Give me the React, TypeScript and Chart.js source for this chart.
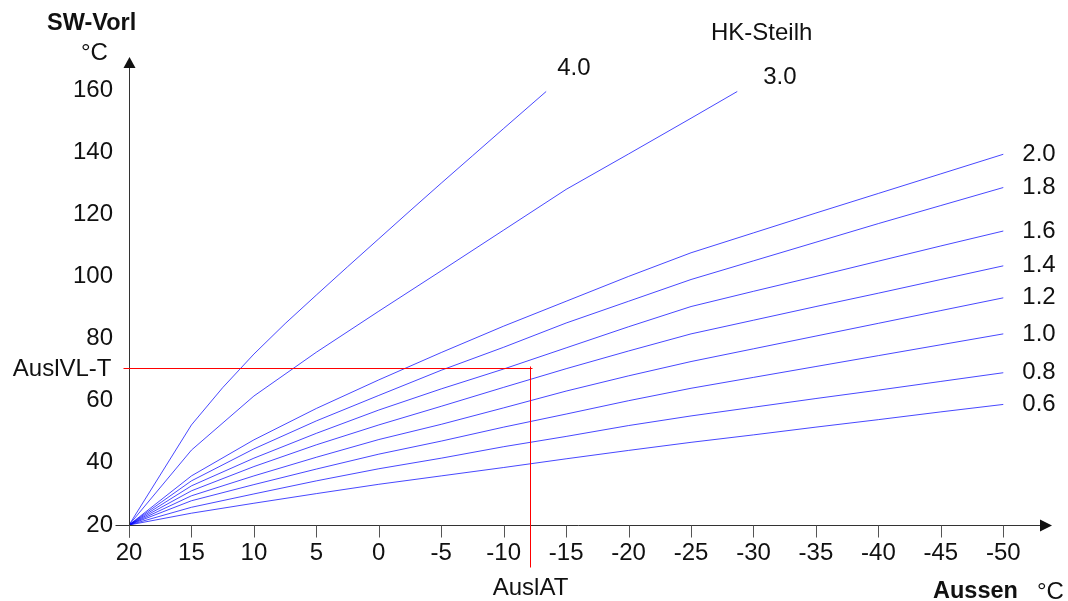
import React, { useEffect, useRef } from "react";
import { Chart, registerables } from "chart.js";

Chart.register(...registerables);

// ---- data ----
const outsideTemps = [20, 15, 10, 5, 0, -5, -10, -15, -20, -25, -30, -35, -40, -45, -50];
const slope06 = [20, 23.8, 27.0, 30.1, 33.1, 35.8, 38.5, 41.3, 44.0, 46.6, 49.0, 51.5, 53.9, 56.4, 58.8];
const slope08 = [20, 25.7, 30.0, 34.2, 38.1, 41.5, 45.2, 48.5, 52.0, 55.1, 57.9, 60.7, 63.4, 66.2, 69.0];
const slope10 = [20, 27.8, 33.0, 38.0, 42.8, 47.0, 51.5, 55.7, 60.0, 64.0, 67.5, 71.0, 74.5, 78.0, 81.5];
const slope12 = [20, 29.4, 35.8, 41.8, 47.5, 52.4, 57.7, 63.1, 68.0, 72.6, 76.7, 80.8, 84.9, 89.0, 93.1];
const slope14 = [20, 31.0, 38.8, 45.8, 52.2, 58.2, 64.3, 70.3, 76.0, 81.5, 85.9, 90.3, 94.6, 99.0, 103.4];
const slope16 = [20, 32.6, 41.5, 49.5, 57.0, 63.8, 70.2, 77.0, 83.8, 90.3, 95.2, 100.0, 104.9, 109.8, 114.6];
const slope18 = [20, 34.2, 44.5, 53.5, 61.7, 69.8, 77.2, 85.0, 92.0, 99.0, 105.0, 111.0, 117.0, 122.8, 128.6];
const slope20 = [20, 35.8, 47.4, 57.5, 66.7, 75.5, 84.0, 92.0, 100.0, 107.6, 114.0, 120.4, 126.7, 133.0, 139.3];
const temps30 = [20, 15, 10, 5, 0, -5, -10, -15, -20, -25, -28.7];
const slope30 = [20, 44.1, 61.5, 75.6, 88.8, 101.8, 114.9, 128.0, 139.4, 150.9, 159.5];
const temps40 = [20, 15, 12.5, 10, 7.5, 5, 2.5, 0, -2.5, -5, -7.5, -10, -13.4];
const slope40 = [20, 52.2, 64.2, 75.0, 84.8, 94.0, 103.1, 112.1, 121.1, 130.0, 138.8, 147.6, 159.5];

const curveLabels = ["0.6", "0.8", "1.0", "1.2", "1.4", "1.6", "1.8", "2.0", "3.0", "4.0"];
const xTickValues = [20, 15, 10, 5, 0, -5, -10, -15, -20, -25, -30, -35, -40, -45, -50];
const yTickValues = [20, 40, 60, 80, 100, 120, 140, 160];
const designOutside = -12.1; // AuslAT
const designFlow = 70.4; // AuslVL-T

const X_MIN = -53.9;
const Y_MAX = 170.6;

// label offsets (px) from the last point of each curve
const labelOffsets: Record<string, [number, number]> = {
  "4.0": [11, -23],
  "3.0": [26, -14],
};
const defaultOffset: [number, number] = [19, 0];

const FONT = '"Liberation Sans", Arial, sans-serif';
const TEXT_COLOR = "#111";
const LINE_COLOR = "rgba(0,0,255,0.72)";

function pts(xs: number[], ys: number[]) {
  return xs.map((x, i) => ({ x, y: ys[i] }));
}

const annotationPlugin = {
  id: "heatingAnnotations",
  afterDatasetsDraw(chart: any) {
    const ctx = chart.ctx as CanvasRenderingContext2D;
    const xs = chart.scales.x;
    const ys = chart.scales.y;
    const area = chart.chartArea;
    const x0 = Math.round(xs.getPixelForValue(20)) + 0.5;
    const y0 = Math.round(ys.getPixelForValue(20)) + 0.5;
    ctx.save();

    // axes
    ctx.strokeStyle = "#333";
    ctx.fillStyle = "#111";
    ctx.lineWidth = 1;
    ctx.beginPath();
    ctx.moveTo(x0 - 14, y0);
    ctx.lineTo(area.right - 11, y0);
    ctx.moveTo(x0, y0 + 12);
    ctx.lineTo(x0, area.top + 10);
    ctx.stroke();
    // arrowheads
    ctx.beginPath();
    ctx.moveTo(area.right, y0);
    ctx.lineTo(area.right - 12, y0 - 6);
    ctx.lineTo(area.right - 12, y0 + 6);
    ctx.closePath();
    ctx.fill();
    ctx.beginPath();
    ctx.moveTo(x0, area.top);
    ctx.lineTo(x0 - 6, area.top + 11);
    ctx.lineTo(x0 + 6, area.top + 11);
    ctx.closePath();
    ctx.fill();
    // x ticks
    ctx.strokeStyle = "#555";
    ctx.beginPath();
    xTickValues.forEach((v) => {
      const px = Math.round(xs.getPixelForValue(v)) + 0.5;
      ctx.moveTo(px, y0);
      ctx.lineTo(px, y0 + 12);
    });
    ctx.stroke();

    // red design lines
    const rx = Math.round(xs.getPixelForValue(designOutside)) + 0.5;
    const ry = Math.round(ys.getPixelForValue(designFlow)) + 0.5;
    ctx.strokeStyle = "#ff0000";
    ctx.beginPath();
    ctx.moveTo(x0 - 6, ry);
    ctx.lineTo(rx + 2, ry);
    ctx.moveTo(rx, ry - 2);
    ctx.lineTo(rx, y0 + 42);
    ctx.stroke();

    // texts
    ctx.fillStyle = TEXT_COLOR;
    ctx.textBaseline = "middle";
    ctx.font = `24px ${FONT}`;
    ctx.textAlign = "right";
    ctx.fillText("AuslVL-T", x0 - 18, ry + 1);
    ctx.textAlign = "center";
    ctx.fillText("AuslAT", rx, y0 + 63);
    ctx.textAlign = "left";
    ctx.fillText("°C", 81, 53);
    ctx.fillText("HK-Steilh", 711, 33);
    ctx.fillText("°C", 1037, 592);
    ctx.font = `bold 23.5px ${FONT}`;
    ctx.fillText("SW-Vorl", 47, 24);
    ctx.fillText("Aussen", 933, 592);

    // curve labels
    ctx.font = `24px ${FONT}`;
    ctx.textAlign = "left";
    chart.data.datasets.forEach((ds: any, i: number) => {
      const last = ds.data[ds.data.length - 1];
      const lbl = curveLabels[i];
      const off = labelOffsets[lbl] || defaultOffset;
      const px = xs.getPixelForValue(last.x) + off[0];
      const py = ys.getPixelForValue(last.y) + off[1];
      ctx.fillText(lbl, px, py);
    });
    ctx.restore();
  },
};

export default function App() {
  const ref = useRef<HTMLCanvasElement | null>(null);
  useEffect(() => {
    if (!ref.current) return;
    const series = [slope06, slope08, slope10, slope12, slope14, slope16, slope18, slope20];
    const datasets: any[] = series.map((s, i) => ({
      label: curveLabels[i],
      data: pts(outsideTemps, s),
    }));
    datasets.push({ label: "3.0", data: pts(temps30, slope30) });
    datasets.push({ label: "4.0", data: pts(temps40, slope40) });
    datasets.forEach((d) => {
      d.borderColor = LINE_COLOR;
      d.borderWidth = 1;
      d.pointRadius = 0;
      d.tension = 0;
      d.fill = false;
    });
    const chart = new Chart(ref.current, {
      type: "line",
      data: { datasets },
      plugins: [annotationPlugin],
      options: {
        animation: false,
        responsive: true,
        maintainAspectRatio: false,
        layout: { padding: { left: 0, top: 57, right: 16, bottom: 0 } },
        plugins: { legend: { display: false }, tooltip: { enabled: false } },
        scales: {
          x: {
            type: "linear",
            reverse: true,
            min: X_MIN,
            max: 20,
            grid: { display: false, drawTicks: false },
            border: { display: false },
            afterBuildTicks: (scale: any) => {
              scale.ticks = xTickValues.map((v) => ({ value: v }));
            },
            afterFit: (scale: any) => {
              scale.height = 76;
            },
            ticks: {
              padding: 14,
              autoSkip: false,
              maxRotation: 0,
              color: TEXT_COLOR,
              font: { family: FONT, size: 24 },
              callback: (v: any) => String(v),
            },
          },
          y: {
            type: "linear",
            min: 20,
            max: Y_MAX,
            grid: { display: false, drawTicks: false },
            border: { display: false },
            afterBuildTicks: (scale: any) => {
              scale.ticks = yTickValues.map((v) => ({ value: v }));
            },
            afterFit: (scale: any) => {
              scale.width = 129;
            },
            ticks: {
              padding: 16,
              color: TEXT_COLOR,
              font: { family: FONT, size: 24 },
              callback: (v: any) => String(v),
            },
          },
        },
      },
    });
    return () => chart.destroy();
  }, []);
  return (
    <div style={{ position: "fixed", left: 0, top: 0, width: 1068, height: 601, background: "#fff" }}>
      <canvas ref={ref} />
    </div>
  );
}
